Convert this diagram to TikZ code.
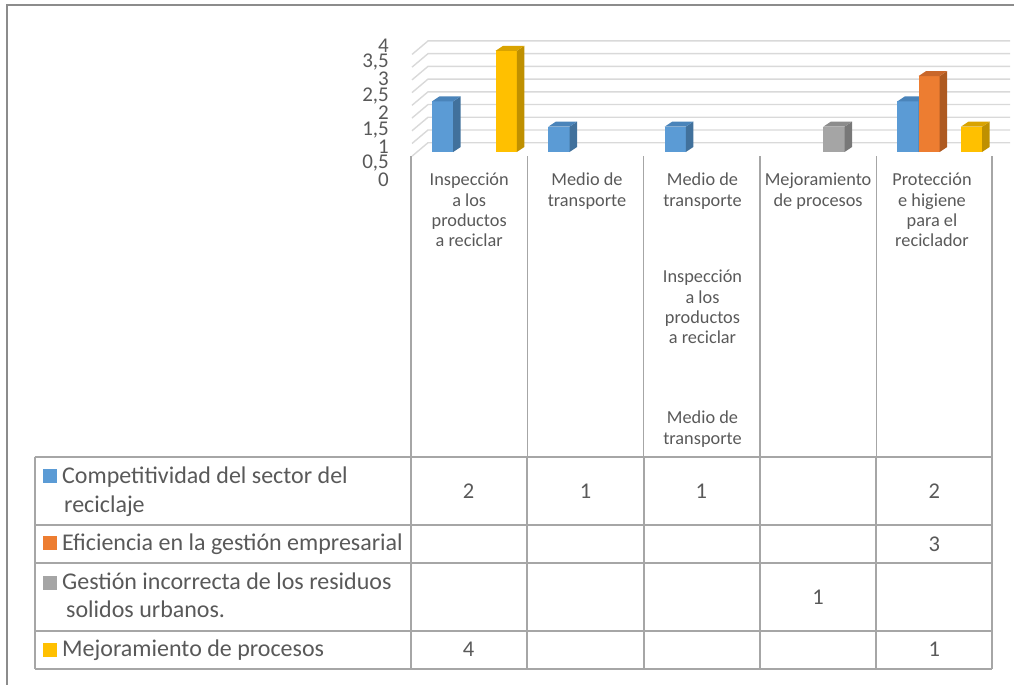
\documentclass[tikz,border=0pt]{standalone}
\usepackage{fontspec}
\setmainfont{Carlito}
\definecolor{txt}{HTML}{595959}
\definecolor{frame}{HTML}{8C8C8C}
\definecolor{gridc}{HTML}{D9D9D9}
\definecolor{tabc}{HTML}{A6A6A6}
\definecolor{blF}{HTML}{5B9BD5}\definecolor{blS}{HTML}{41719C}\definecolor{blT}{HTML}{4A84BA}
\definecolor{orF}{HTML}{ED7D31}\definecolor{orS}{HTML}{AE5A21}\definecolor{orT}{HTML}{C9672A}
\definecolor{grF}{HTML}{A5A5A5}\definecolor{grS}{HTML}{787878}\definecolor{grT}{HTML}{8C8C8C}
\definecolor{yeF}{HTML}{FFC000}\definecolor{yeS}{HTML}{BF9000}\definecolor{yeT}{HTML}{D9A300}
\newcommand\mybar[3]{%
  \pgfmathsetmacro\bt{152-25.3*#2}%
  \fill[#3F] (#1,152) rectangle ({#1+21.2},\bt);
  \fill[#3S] ({#1+21.2},152) -- ({#1+28.7},147) -- ({#1+28.7},{\bt-5}) -- ({#1+21.2},\bt) -- cycle;
  \fill[#3T] (#1,\bt) -- ({#1+21.2},\bt) -- ({#1+28.7},{\bt-5}) -- ({#1+7.5},{\bt-5}) -- cycle;
}
\tikzset{
  framel/.style={draw=frame, line width=2.2pt},
  gridl/.style={draw=gridc, line width=1.4pt},
  tabl/.style={draw=tabc, line width=2pt},
  vline/.style={draw=tabc, line width=1.5pt},
  ylab/.style={anchor=east, inner sep=0pt, text=txt, font=\fontsize{21}{21}\selectfont},
  catlab/.style={anchor=north, inner sep=0pt, align=center, text=txt, font=\fontsize{18.3}{20.4}\selectfont},
  legtxt/.style={anchor=base west, inner sep=0pt, text=txt, font=\fontsize{24}{28}\selectfont},
  num/.style={anchor=center, inner sep=0pt, text=txt, font=\fontsize{22.5}{22.5}\selectfont},
  sq/.style={minimum size=14pt, inner sep=0pt, anchor=center}
}
\begin{document}
\begin{tikzpicture}[x=1pt,y=-1pt]
\useasboundingbox (0,0) rectangle (1014,685);
% outer frame
\draw[framel] (1014,5) -- (7,5) -- (7,685);
% 3D grid
\foreach \k in {0,...,8}{
  \pgfmathsetmacro\g{142.7-12.72*\k}
  \draw[gridl] (412,{\g+13.5}) -- (428,\g) -- (1010,\g);
}
% y labels
\node[ylab] (y0) at (389,180) {0};
\node[ylab] (y05) at (389,163.2) {0,5};
\node[ylab] (y1) at (389,146.4) {1};
\node[ylab] (y15) at (389,129.6) {1,5};
\node[ylab] (y2) at (389,112.8) {2};
\node[ylab] (y25) at (389,96) {2,5};
\node[ylab] (y3) at (389,79.2) {3};
\node[ylab] (y35) at (389,62.4) {3,5};
\node[ylab] (y4) at (389,45.6) {4};
% bars
\mybar{432}{2}{bl}
\mybar{495.6}{4}{ye}
\mybar{548.3}{1}{bl}
\mybar{664.6}{1}{bl}
\mybar{823.3}{1}{gr}
\mybar{897.3}{2}{bl}
\mybar{918.5}{3}{or}
\mybar{960.9}{1}{ye}
% vertical category lines
\foreach \x in {411,527.4,643.7,760,876.3,992}{
  \draw[vline] (\x,156) -- (\x,457);
}
% table
\foreach \y in {457,525,563,631,669}{
  \draw[tabl] (34.5,\y) -- (992,\y);
}
\foreach \x in {34.5,411,527.4,643.7,760,876.3,992}{
  \draw[tabl] (\x,457) -- (\x,669);
}
% category labels
\node[catlab] (c1) at (469.2,173) {Inspección\\a los\\productos\\a reciclar};
\node[catlab] (c2) at (587,173) {Medio de\\transporte};
\node[catlab] (c3) at (702.5,173) {Medio de\\transporte};
\node[catlab] (c3b) at (702.5,270) {Inspección\\a los\\productos\\a reciclar};
\node[catlab] (c3c) at (702.5,411) {Medio de\\transporte};
\node[catlab] (c4) at (818.1,173) {Mejoramiento\\de procesos};
\node[catlab] (c5) at (932,173) {Protección\\e higiene\\para el\\reciclador};
% legend
\node[sq, fill=blF] (s1) at (50,476) {};
\node[sq, fill=orF] (s2) at (50,543) {};
\node[sq, fill=grF] (s3) at (50,582.5) {};
\node[sq, fill=yeF] (s4) at (50,650) {};
\node[legtxt] (l1a) at (62,483.5) {Competitividad del sector del};
\node[legtxt] (l1b) at (64,512.5) {reciclaje};
\node[legtxt] (l2) at (62,550.5) {Eficiencia en la gestión empresarial};
\node[legtxt] (l3a) at (62,589.5) {Gestión incorrecta de los residuos};
\node[legtxt] (l3b) at (66,617.5) {solidos urbanos.};
\node[legtxt] (l4) at (62,656.5) {Mejoramiento de procesos};
% numbers
\node[num] (n11) at (468.5,491) {2};
\node[num] (n12) at (585.5,491) {1};
\node[num] (n13) at (701.2,491) {1};
\node[num] (n15) at (934.2,491) {2};
\node[num] (n25) at (934.2,544) {3};
\node[num] (n34) at (818.1,597) {1};
\node[num] (n41) at (468.5,649.5) {4};
\node[num] (n45) at (934.2,649.5) {1};
\end{tikzpicture}
\end{document}
